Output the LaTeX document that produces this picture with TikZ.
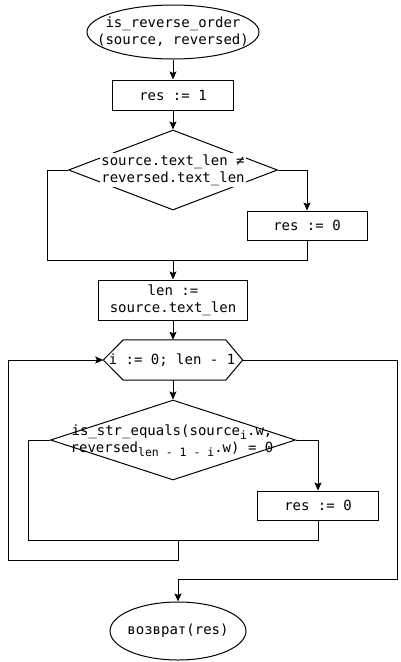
\documentclass[tikz,border=0pt]{standalone}
\usepackage{fontspec}
\setmonofont{DejaVu Sans Mono}
\usetikzlibrary{shapes.geometric,arrows.meta}
\newcommand\lowsub[1]{\raisebox{-4pt}{\fontsize{11.5}{12}\selectfont #1}}
\tikzset{
  txt/.style={font=\ttfamily\fontsize{14}{17}\selectfont, inner sep=0pt, align=center},
  proc/.style={draw, line width=1pt, rectangle, inner sep=0pt, font=\ttfamily\fontsize{14}{17}\selectfont, align=center},
  term/.style={draw, line width=1pt, ellipse, inner sep=0pt},
  decide/.style={draw, line width=1pt, diamond, inner sep=0pt},
  line/.style={line width=1pt},
  conn/.style={line width=1pt, -{Stealth[length=8pt,width=7pt,inset=1.5pt]}},
}
\begin{document}
\begin{tikzpicture}[x=1pt,y=-1pt]
\useasboundingbox (0,0) rectangle (400,662);
% start
\node[term, minimum width=172pt, minimum height=54pt] (start) at (173,32) {};
\node[txt] (starttxt) at (173,32) {is\_reverse\_order\\(source, reversed)};
\node[proc, minimum width=121pt, minimum height=30pt] (r1) at (173,95) {res := 1};
% diamond 1
\node[decide, minimum width=209pt, minimum height=80pt] (d1) at (173,170) {};
\node[txt, fill=white, inner sep=1pt] (d1txt) at (173,170) {source.text\_len ≠\\reversed.text\_len};
\node[proc, minimum width=120pt, minimum height=29pt] (r0a) at (307,225.5) {res := 0};
\coordinate (m1l) at (47,260);
\coordinate (m1r) at (307,260);
\coordinate (m1) at (173,260);
% len
\node[proc, minimum width=149pt, minimum height=40pt] (lenbox) at (173,300) {len :=\\source.text\_len};
% hexagon
\node[minimum width=139pt, minimum height=40pt, inner sep=0pt] (hex) at (173,360) {};
\draw[line] (hex.west) -- ([xshift=20pt]hex.north west) -- ([xshift=-17pt]hex.north east) -- (hex.east)
  -- ([xshift=-17pt]hex.south east) -- ([xshift=20pt]hex.south west) -- cycle;
\node[txt] (hextxt) at (172,360) {i := 0; len - 1};
% diamond 2
\node[decide, minimum width=245pt, minimum height=80pt] (d2) at (173,440) {};
\node[txt] (d2txt) at (172,441) {is\_str\_equals(source\lowsub{i}.w,\\reversed\lowsub{len - 1 - i}.w) = 0};
\node[proc, minimum width=121pt, minimum height=29pt] (r0b) at (318,505.5) {res := 0};
\coordinate (m2l) at (28,540);
\coordinate (m2r) at (318,540);
\coordinate (m2) at (178,540);
\coordinate (l1) at (178,560);
\coordinate (l2) at (8,560);
\coordinate (l3) at (8,360);
\coordinate (e1) at (397,360);
\coordinate (e2) at (397,579);
% end
\node[term, minimum width=136pt, minimum height=58pt] (stop) at (178,631) {};
\node[txt] (stoptxt) at (178,631) {возврат(res)};
% connectors
\draw[conn] (start.south) -- (r1.north);
\draw[conn] (r1.south) -- (d1.north);
\draw[conn] (d1.east) -| (r0a.north);
\draw[line] (d1.west) -| (m1l) -- (m1r) -- (r0a.south);
\draw[conn] (m1) -- (lenbox.north);
\draw[conn] (lenbox.south) -- (hex.north);
\draw[conn] (hex.south) -- (d2.north);
\draw[conn] (d2.east) -| (r0b.north);
\draw[line] (d2.west) -| (m2l) -- (m2r) -- (r0b.south);
\draw[conn] (m2) -- (l1) -- (l2) -- (l3) -- (hex.west);
\draw[conn] (hex.east) -- (e1) -- (e2) -| (stop.north);
\end{tikzpicture}
\end{document}
